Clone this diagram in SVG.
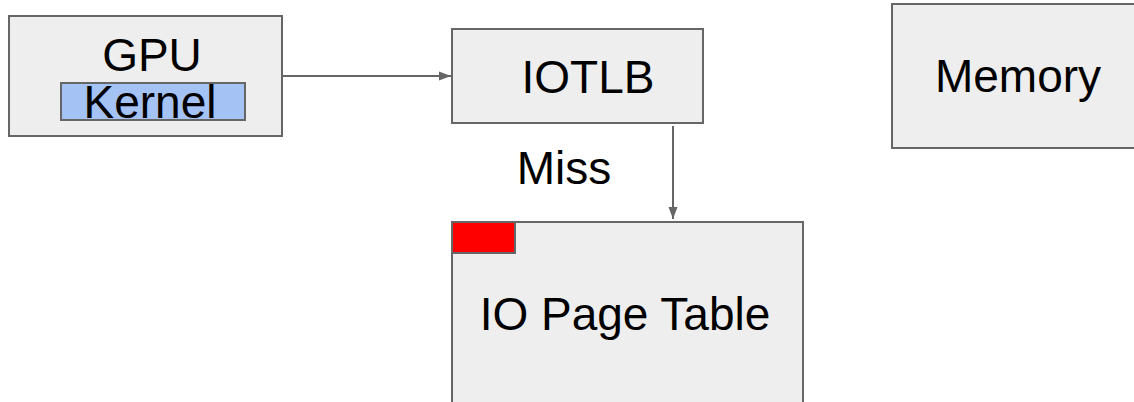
<svg xmlns="http://www.w3.org/2000/svg" width="1134" height="402" viewBox="0 0 1134 402">
  <style>
    .box { fill: #eeeeee; stroke: #666666; stroke-width: 2; }
    .lbl { font-family: "Liberation Sans", Arial, sans-serif; font-size: 46px; fill: #000000; text-anchor: middle; }
    .conn { stroke: #666666; stroke-width: 2; fill: none; }
  </style>
  <defs>
    <marker id="arrow" viewBox="0 0 12 10" refX="12" refY="5" markerWidth="6" markerHeight="5" markerUnits="strokeWidth" orient="auto">
      <path d="M0,0.5 L12,5 L0,9.5 Z" fill="#666666"/>
    </marker>
  </defs>
  <rect width="1134" height="402" fill="#ffffff"/>

  <g id="gpu">
    <rect class="box" x="9" y="16" width="273" height="120"/>
    <text class="lbl" x="152" y="71">GPU</text>
    <rect x="61" y="83" width="184" height="37" fill="#a4c2f4" stroke="#666666" stroke-width="2"/>
    <text class="lbl" x="150" y="118">Kernel</text>
  </g>

  <g id="iotlb">
    <rect class="box" x="452" y="29" width="251" height="94"/>
    <text class="lbl" x="588" y="93">IOTLB</text>
  </g>

  <g id="memory">
    <rect class="box" x="892" y="4" width="254" height="144"/>
    <text class="lbl" x="1018" y="92">Memory</text>
  </g>

  <g id="page-table">
    <rect class="box" x="452" y="222" width="351" height="200"/>
    <rect x="452" y="222" width="63" height="31" fill="#ff0000" stroke="#666666" stroke-width="2"/>
    <text class="lbl" x="625" y="330">IO Page Table</text>
  </g>

  <g id="connectors">
    <line class="conn" x1="283" y1="76" x2="451" y2="76" marker-end="url(#arrow)"/>
    <line class="conn" x1="673" y1="126" x2="673" y2="219" marker-end="url(#arrow)"/>
    <text class="lbl" x="564" y="184">Miss</text>
  </g>
</svg>
